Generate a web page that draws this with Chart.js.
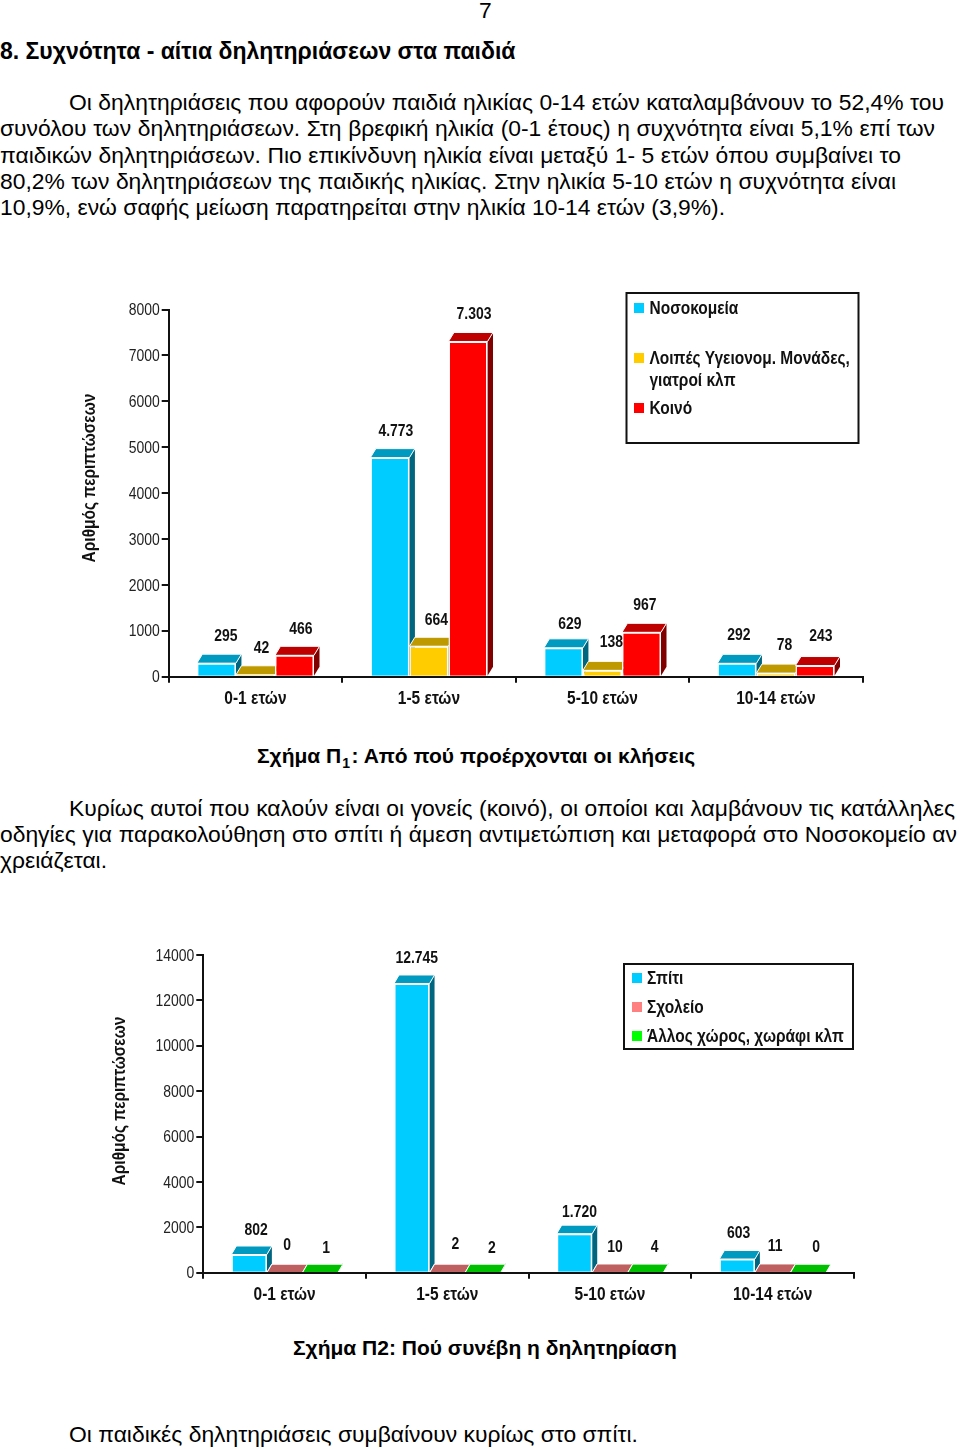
<!DOCTYPE html>
<html lang="el"><head><meta charset="utf-8">
<script src="https://cdn.jsdelivr.net/npm/chart.js@4"></script>
<style>
html,body{margin:0;padding:0;background:#fff}
body{width:960px;height:1449px;position:relative;overflow:hidden;font-family:"Liberation Sans",Arial,sans-serif;color:#000}
.t{position:absolute;font-size:22.85px;line-height:26px;white-space:nowrap;transform:translateY(-50%)}
.j{text-align:justify;text-align-last:justify;white-space:normal}
.b{font-weight:bold}
.h{font-size:23px}
.c{font-size:21px}
sub{font-size:14px;line-height:0;padding:0 1.5px 0 1px}
canvas{position:absolute;left:0}
</style></head><body>
<div class="t" style="left:479px;top:10px">7</div>
<div class="t b h" style="left:0;top:51px">8. Συχνότητα - αίτια δηλητηριάσεων στα παιδιά</div>
<div class="t j" style="left:69px;width:875px;top:102px">Οι δηλητηριάσεις που αφορούν παιδιά ηλικίας 0-14 ετών καταλαμβάνουν το 52,4% του</div>
<div class="t j" style="left:0;width:935px;top:128px">συνόλου των δηλητηριάσεων. Στη βρεφική ηλικία (0-1 έτους) η συχνότητα είναι 5,1% επί των</div>
<div class="t j" style="left:0;width:901px;top:155px">παιδικών δηλητηριάσεων. Πιο επικίνδυνη ηλικία είναι μεταξύ 1- 5 ετών όπου συμβαίνει το</div>
<div class="t j" style="left:0;width:896px;top:181px">80,2% των δηλητηριάσεων της παιδικής ηλικίας. Στην ηλικία 5-10 ετών η συχνότητα είναι</div>
<div class="t j" style="left:0;width:725px;top:207px">10,9%, ενώ σαφής μείωση παρατηρείται στην ηλικία 10-14 ετών (3,9%).</div>
<canvas id="c1" width="960" height="445" style="top:280px;width:960px;height:445px"></canvas>
<div class="t b c" style="left:257px;top:756px">Σχήμα Π<sub>1</sub>: Από πού προέρχονται οι κλήσεις</div>
<div class="t j" style="left:69px;width:886px;top:808px">Κυρίως αυτοί που καλούν είναι οι γονείς (κοινό), οι οποίοι και λαμβάνουν τις κατάλληλες</div>
<div class="t j" style="left:0;width:957px;top:834px">οδηγίες για παρακολούθηση στο σπίτι ή άμεση αντιμετώπιση και μεταφορά στο Νοσοκομείο αν</div>
<div class="t" style="left:0;top:860px">χρειάζεται.</div>
<canvas id="c2" width="960" height="385" style="top:930px;width:960px;height:385px"></canvas>
<div class="t b c" style="left:293px;top:1348px">Σχήμα Π2: Πού συνέβη η δηλητηρίαση</div>
<div class="t" style="left:69px;top:1434px">Οι παιδικές δηλητηριάσεις συμβαίνουν κυρίως στο σπίτι.</div>
<script>
const ageGroups = ['0-1 ετών', '1-5 ετών', '5-10 ετών', '10-14 ετών'];
const axisTitle = 'Αριθμός περιπτώσεων';

const callHospitals = [295, 4773, 629, 292];
const callOtherUnits = [42, 664, 138, 78];
const callPublic = [466, 7303, 967, 243];

const placeHome = [802, 12745, 1720, 603];
const placeSchool = [0, 2, 10, 11];
const placeOther = [1, 2, 4, 0];

const FONT = '"Liberation Sans",Arial,sans-serif';
const RGB = {cyan:[0,204,255], gold:[255,204,0], red:[255,0,0], salmon:[255,128,128], green:[0,255,0]};
const css = (c,k=1)=>`rgb(${c.map(v=>Math.round(v*k)).join(',')})`;
const fmt = v => String(v).replace(/\B(?=(\d{3})+$)/g,'.');
const squeeze = t => /^[\d.,]+$/.test(String(t)) ? .82 : .86;

// The reference's chart text is horizontally condensed: narrow every label drawn on the canvas.
function condense(ctx){
  const raw=ctx.fillText.bind(ctx);
  ctx.fillText=(t,x,y)=>raw(t,x,y,ctx.measureText(t).width*squeeze(t));
}

const box3d = {
  id:'box3d',
  beforeDatasetsDraw(chart,_a,o){
    const ctx=chart.ctx;
    chart.data.datasets.forEach((ds,i)=>{
      const meta=chart.getDatasetMeta(i);
      meta.data.forEach(el=>{
        const {x,y,base,width}=el.getProps(['x','y','base','width'],true);
        const l=x-width/2,r=x+width/2;
        ctx.save();
        ctx.lineWidth=1;ctx.strokeStyle='#fff';
        ctx.fillStyle=css(ds.rgb,.5);
        ctx.beginPath();ctx.moveTo(r,y);ctx.lineTo(r+o.dx,y-o.dy);ctx.lineTo(r+o.dx,base-o.dy);ctx.lineTo(r,base);ctx.closePath();ctx.fill();
        ctx.fillStyle=css(ds.rgb,.75);
        ctx.beginPath();ctx.moveTo(l,y);ctx.lineTo(l+o.dx,y-o.dy);ctx.lineTo(r+o.dx,y-o.dy);ctx.lineTo(r,y);ctx.closePath();ctx.fill();ctx.stroke();
        ctx.restore();
        el.draw(ctx,chart.chartArea);
      });
    });
    return false;
  },
  afterDraw(chart,_a,o){
    const ctx=chart.ctx;
    ctx.save();
    ctx.fillStyle='#111';ctx.textAlign='center';ctx.textBaseline='middle';
    ctx.font='bold 17px '+FONT;
    chart.data.datasets.forEach((ds,i)=>{
      chart.getDatasetMeta(i).data.forEach((el,j)=>{
        const n=o.nudge[i][j];
        ctx.fillText(fmt(ds.data[j]),el.x+o.labelDx+n[0],el.y+o.labelDy+n[1]);
      });
    });
    ctx.font='bold 18px '+FONT;
    ctx.save();ctx.translate(o.titleX,o.titleY);ctx.rotate(-Math.PI/2);
    ctx.fillText(axisTitle,0,0);ctx.restore();
    const L=o.legend;
    ctx.fillStyle='#fff';ctx.fillRect(L.x,L.y,L.w,L.h);
    ctx.strokeStyle='#111';ctx.lineWidth=2;ctx.strokeRect(L.x,L.y,L.w,L.h);
    ctx.textAlign='left';
    chart.data.datasets.forEach((ds,i)=>{
      const row=L.rows[i];
      ctx.fillStyle=css(ds.rgb);ctx.fillRect(L.x+L.sw,row-5,10,10);
      ctx.fillStyle='#111';
      let lines=[ds.label];
      if(ctx.measureText(ds.label).width*squeeze(ds.label)>L.w-L.tx-4){
        const w=ds.label.split(' ');lines=[w.slice(0,-2).join(' '),w.slice(-2).join(' ')];
      }
      lines.forEach((s,k)=>ctx.fillText(s,L.x+L.tx,row+1+k*22));
    });
    ctx.restore();
  }
};

function make(id,series,max,step,pad,cat,extra){
  const cv=document.getElementById(id);
  condense(cv.getContext('2d'));
  new Chart(cv,{
    type:'bar',
    plugins:[box3d],
    data:{labels:ageGroups,datasets:series.map(s=>({label:s.label,data:s.data,rgb:s.rgb,backgroundColor:css(s.rgb),borderColor:'#fff',borderWidth:1.5,borderSkipped:'bottom'}))},
    options:{
      responsive:false,animation:false,
      layout:{padding:pad},
      categoryPercentage:cat,barPercentage:1,
      plugins:{legend:{display:false},title:{display:false},tooltip:{enabled:false},box3d:extra},
      scales:{
        x:{grid:{drawOnChartArea:false,color:'#111',lineWidth:2,tickLength:6,offset:true},
           border:{color:'#111',width:2,z:1},
           ticks:{color:'#111',padding:6,font:{family:FONT,size:18,weight:'bold'},maxRotation:0},
           afterFit(s){s.height=pad.xh}},
        y:{min:0,max:max,grid:{drawOnChartArea:false,color:'#111',lineWidth:2,tickLength:7},
           border:{color:'#111',width:2,z:1},
           ticks:{stepSize:step,color:'#222',padding:2,labelOffset:1,font:{family:FONT,size:17},callback:v=>String(v)},
           afterFit(s){s.width=pad.yw}}
      }
    }
  });
}

make('c1',[
  {label:'Νοσοκομεία',data:callHospitals,rgb:RGB.cyan},
  {label:'Λοιπές Υγειονομ. Μονάδες, γιατροί κλπ',data:callOtherUnits,rgb:RGB.gold},
  {label:'Κοινό',data:callPublic,rgb:RGB.red}
],8000,1000,{left:100,right:97.3,top:29.5,bottom:0,yw:68.7,xh:48.3},.675,{
  dx:5.5,dy:9,labelDx:6,labelDy:-27,titleX:90,titleY:198,
  nudge:[[[3.5,0],[0,.4],[.5,3],[-4,-1]],[[0,1],[1.5,1],[3,-1],[2.5,-1]],[[.5,1],[0,-.5],[-2.5,0],[0,-2.5]]],
  legend:{x:626.5,y:13,w:232,h:150,sw:7.5,tx:23,rows:[28,78,128]}
});

make('c2',[
  {label:'Σπίτι',data:placeHome,rgb:RGB.cyan},
  {label:'Σχολείο',data:placeSchool,rgb:RGB.salmon},
  {label:'Άλλος χώρος, χωράφι κλπ',data:placeOther,rgb:RGB.green}
],14000,2000,{left:100,right:106,top:25,bottom:0,yw:103.3,xh:42.3},.655,{
  dx:5,dy:8.5,labelDx:6,labelDy:-25,titleX:120,titleY:171,
  nudge:[[[1,.5],[-1,0],[-1,4],[-4.5,-1]],[[-3.5,-2],[2,-3],[-1,0],[-3.5,-1]],[[0,1],[3,1],[3,0],[2,0]]],
  legend:{x:624,y:34,w:229,h:85,sw:8,tx:23,rows:[48,77,106]}
});
</script>
</body></html>
